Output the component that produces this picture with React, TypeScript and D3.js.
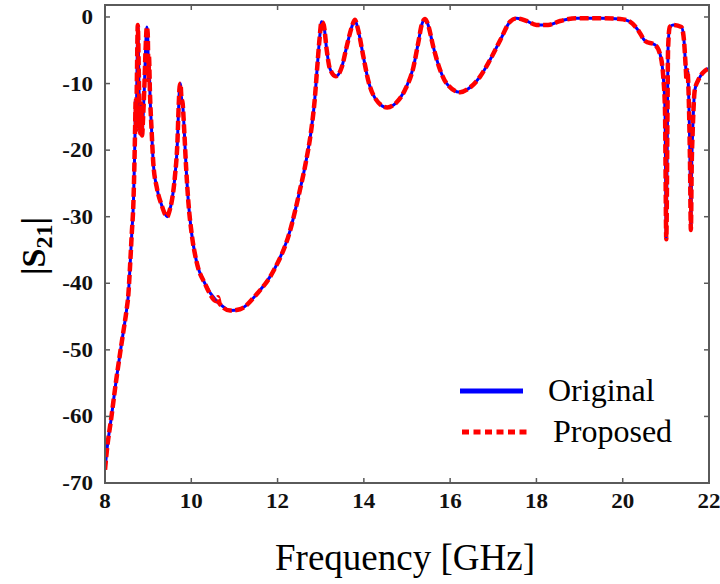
import React from "react";
import * as d3 from "d3";

const freq = [8.0, 8.04, 8.15, 8.25, 8.35, 8.42, 8.5, 8.54, 8.58, 8.62, 8.66, 8.68, 8.7, 8.71, 8.72, 8.74, 8.76, 8.78, 8.8, 8.82, 8.84, 8.86, 8.88, 8.91, 8.94, 8.97, 8.99, 9.01, 9.02, 9.04, 9.08, 9.12, 9.2, 9.31, 9.44, 9.5, 9.55, 9.62, 9.68, 9.71, 9.73, 9.75, 9.77, 9.8, 9.84, 9.88, 9.93, 10.01, 10.12, 10.32, 10.59, 10.62, 10.66, 10.9, 11.13, 11.52, 11.9, 12.29, 12.5, 12.65, 12.78, 12.86, 12.92, 12.97, 13.02, 13.07, 13.14, 13.21, 13.35, 13.49, 13.6, 13.72, 13.79, 13.87, 13.99, 14.1, 14.26, 14.54, 14.76, 14.95, 15.15, 15.26, 15.34, 15.42, 15.49, 15.61, 15.77, 15.92, 16.23, 16.46, 16.69, 16.92, 17.16, 17.39, 17.54, 17.77, 18.0, 18.27, 18.55, 18.93, 19.5, 19.94, 20.17, 20.36, 20.52, 20.75, 20.87, 20.94, 20.98, 21.01, 21.04, 21.05, 21.09, 21.17, 21.36, 21.42, 21.46, 21.48, 21.5, 21.52, 21.56, 21.58, 21.6, 21.62, 21.67, 21.75, 21.87, 22.0];

const original = [-68, -65.3, -60, -55, -50.5, -47.5, -44, -41.8, -37.5, -32.6, -27.6, -22.6, -16, -12.5, -17, -9, -1.2, -7, -15, -17.5, -13, -17.8, -15.5, -11, -5, -1.5, -2.5, -9.5, -6, -11, -17, -22, -25.6, -28.2, -30, -29, -27.6, -24, -18.6, -13, -10.5, -10, -12, -13, -17.5, -22.6, -27.6, -32.6, -36.7, -40.1, -42.7, -42.9, -43.1, -44.1, -43.9, -41.6, -38.2, -32.1, -26.5, -22, -17, -12.5, -7.5, -3.5, -0.7, -1.2, -5, -7.7, -8.9, -7.5, -4.5, -1.5, -0.4, -2, -6, -9.5, -12.2, -13.6, -12.8, -11, -7.5, -3.9, -1.2, -0.3, -1.2, -4.5, -8, -10, -11.3, -10.6, -9, -6.5, -3.5, -0.7, -0.2, -0.6, -1.2, -1.2, -0.6, -0.2, -0.2, -0.3, -0.7, -2, -3.6, -4.2, -5.7, -9, -14, -33.4, -12.5, -5, -1.5, -1.2, -1.5, -3.5, -7.5, -9, -8, -10, -22, -32, -22, -17.5, -11, -9.5, -8.3, -7.7];

const proposed = [-68, -65.3, -60, -55, -50.5, -47.5, -44, -41.8, -37.5, -32.6, -27.6, -22.6, -16, -12.5, -17, -9, -1.2, -7, -15, -17.5, -13, -17.8, -15.5, -11, -5, -1.5, -2.5, -9.5, -6, -11, -17, -22, -25.6, -28.2, -30, -29, -27.6, -24, -18.6, -13, -10.5, -10, -12, -13, -17.5, -22.6, -27.6, -32.6, -36.7, -40.1, -42.7, -42.1, -43.1, -44.1, -43.9, -41.6, -38.2, -32.1, -26.5, -22, -17, -12.5, -7.5, -3.5, -0.7, -1.2, -5, -7.7, -8.9, -7.5, -4.5, -1.5, -0.4, -2, -6, -9.5, -12.2, -13.6, -12.8, -11, -7.5, -3.9, -1.2, -0.3, -1.2, -4.5, -8, -10, -11.3, -10.6, -9, -6.5, -3.5, -0.7, -0.2, -0.6, -1.2, -1.2, -0.6, -0.2, -0.2, -0.3, -0.7, -2, -3.6, -4.2, -5.7, -9, -14, -33.4, -12.5, -5, -1.5, -1.2, -1.5, -3.5, -7.5, -9.5, -8, -10, -22, -32, -22, -17.5, -11, -9.5, -8.3, -7.7];

const xTicks = [8, 10, 12, 14, 16, 18, 20, 22];
const yTicks = [0, -10, -20, -30, -40, -50, -60, -70];
const legendLabels = ["Original", "Proposed"];

const W = 720;
const H = 584;
const left = 105;
const right = 709;
const top = 5;
const bottom = 483;

const serif = "Liberation Serif, Times New Roman, Times, DejaVu Serif, serif";

export default function App() {
  const x = d3.scaleLinear().domain([8, 22]).range([left, right]);
  const y = d3.scaleLinear().domain([-70, 1.8]).range([bottom, top]);

  const line = d3
    .line<number>()
    .x((_, i) => x(freq[i]))
    .y((d) => y(d))
    .curve(d3.curveMonotoneX);

  const frame = "#5a5a5a";
  const tickLen = 5;
  const tickStyle = { fontFamily: serif, fontWeight: 700, fontSize: "20px" } as React.CSSProperties;

  return (
    <svg
      width={W}
      height={H}
      style={{ position: "absolute", left: 0, top: 0, background: "#fff", fontFamily: serif }}
    >
      <defs>
        <clipPath id="plot">
          <rect x={left} y={top} width={right - left} height={bottom - top} />
        </clipPath>
      </defs>
      <rect x={0} y={0} width={W} height={H} fill="#fff" />

      <g clipPath="url(#plot)">
        <path d={line(original) || ""} fill="none" stroke="#0000ff" strokeWidth={3} strokeLinejoin="round" />
        <path
          d={line(proposed) || ""}
          fill="none"
          stroke="#ff0000"
          strokeWidth={4.5}
          strokeDasharray="9 3.5"
          strokeLinejoin="round"
        />
      </g>

      <rect x={left} y={top} width={right - left} height={bottom - top} fill="none" stroke={frame} strokeWidth={2} />

      {xTicks.map((t) => (
        <g key={"x" + t}>
          {t !== 8 && t !== 22 && (
            <>
              <line x1={x(t)} x2={x(t)} y1={bottom} y2={bottom - tickLen} stroke={frame} strokeWidth={1.5} />
              <line x1={x(t)} x2={x(t)} y1={top} y2={top + tickLen} stroke={frame} strokeWidth={1.5} />
            </>
          )}
          <text
            transform={`translate(${x(t)},${508}) scale(1.15,1)`}
            textAnchor="middle"
            style={tickStyle}
            fill="#111"
          >
            {t}
          </text>
        </g>
      ))}

      {yTicks.map((t) => (
        <g key={"y" + t}>
          {t !== -70 && (
            <>
              <line x1={left} x2={left + tickLen} y1={y(t)} y2={y(t)} stroke={frame} strokeWidth={1.5} />
              <line x1={right} x2={right - tickLen} y1={y(t)} y2={y(t)} stroke={frame} strokeWidth={1.5} />
            </>
          )}
          <text
            transform={`translate(${93},${y(t) + 7}) scale(1.15,1)`}
            textAnchor="end"
            style={tickStyle}
            fill="#111"
          >
            {t}
          </text>
        </g>
      ))}

      <text x={405} y={570} textAnchor="middle" style={{ fontFamily: serif, fontSize: "37px" }} fill="#000">
        Frequency [GHz]
      </text>
      <text
        transform={`translate(${45},${246}) rotate(-90)`}
        textAnchor="middle"
        style={{ fontFamily: serif, fontWeight: 700, fontSize: "34px" }}
        fill="#000"
      >
        |S
        <tspan style={{ fontSize: "24px" }} dy={7}>21</tspan>
        <tspan dy={-7}>|</tspan>
      </text>

      <line x1={460} x2={523} y1={391} y2={391} stroke="#0000ff" strokeWidth={5} />
      <text x={548} y={401} style={{ fontFamily: serif, fontSize: "32px" }} fill="#000">
        {legendLabels[0]}
      </text>
      <line x1={462} x2={527} y1={432} y2={432} stroke="#ff0000" strokeWidth={5} strokeDasharray="7 4.5" />
      <text x={553} y={442} style={{ fontFamily: serif, fontSize: "32px" }} fill="#000">
        {legendLabels[1]}
      </text>
    </svg>
  );
}
